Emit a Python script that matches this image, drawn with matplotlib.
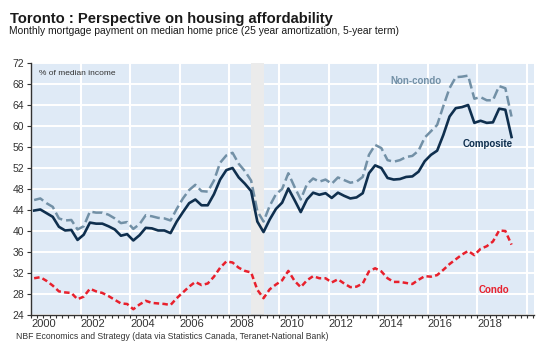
import numpy as np
import matplotlib
matplotlib.use("Agg")
from matplotlib import pyplot as plt
from matplotlib.ticker import MultipleLocator, FixedLocator

plt.rcParams['font.family'] = ['Liberation Sans', 'DejaVu Sans']

# quarterly data, 2000Q1 .. 2019Q2 (plotted at mid-quarter)
quarters = 2000.125 + 0.25 * np.arange(78)

composite = [43.9, 44.1, 43.4, 42.7, 40.8, 40.1, 40.2, 38.3, 39.3, 41.6,
             41.4, 41.4, 40.9, 40.3, 39.1, 39.4, 38.2, 39.2, 40.6, 40.5,
             40.1, 40.1, 39.6, 41.8, 43.6, 45.3, 46.0, 44.9, 44.9, 47.0,
             49.8, 51.6, 52.0, 50.2, 49.0, 47.6, 41.8, 39.8, 42.2, 44.2,
             45.4, 48.1, 45.9, 43.6, 46.0, 47.3, 46.9, 47.2, 46.3, 47.3,
             46.7, 46.2, 46.4, 47.2, 51.0, 52.5, 52.0, 50.1, 49.8, 49.9,
             50.3, 50.4, 51.3, 53.3, 54.5, 55.3, 58.3, 61.8, 63.4, 63.6,
             64.0, 60.6, 61.0, 60.6, 60.7, 63.3, 63.1, 57.9]

non_condo = [45.9, 46.2, 45.3, 44.6, 42.4, 42.0, 42.1, 40.3, 40.9, 43.7,
             43.5, 43.5, 43.1, 42.4, 41.5, 41.7, 40.4, 41.3, 43.0, 42.8,
             42.5, 42.4, 42.0, 44.2, 46.2, 47.8, 48.8, 47.6, 47.5, 49.6,
             53.0, 54.4, 54.9, 52.8, 51.4, 49.6, 43.8, 41.8, 44.8, 47.0,
             48.0, 51.0, 48.4, 46.0, 48.9, 50.0, 49.4, 49.8, 49.0, 50.2,
             49.7, 49.2, 49.4, 50.3, 54.5, 56.4, 55.8, 53.5, 53.2, 53.5,
             54.1, 54.3, 55.3, 57.8, 59.0, 60.2, 63.8, 67.2, 69.3, 69.4,
             69.6, 65.2, 65.5, 64.9, 64.9, 67.6, 67.2, 61.8]

condo = [31.0, 31.2, 30.5, 29.6, 28.5, 28.3, 28.2, 27.0, 27.5, 29.0,
         28.5, 28.2, 27.6, 26.9, 26.2, 26.1, 25.1, 26.0, 26.7, 26.3,
         26.2, 26.1, 25.9, 27.2, 28.3, 29.4, 30.3, 29.7, 30.0, 31.3,
         33.0, 34.2, 34.0, 33.0, 32.4, 32.1, 28.8, 27.2, 28.9, 29.8,
         30.6, 32.4, 30.5, 29.3, 30.6, 31.4, 31.0, 31.0, 30.2, 30.8,
         30.0, 29.3, 29.4, 30.0, 32.3, 32.9, 32.3, 31.0, 30.3, 30.3,
         30.1, 29.9, 30.7, 31.4, 31.3, 31.6, 32.6, 33.7, 34.6, 35.5,
         36.2, 35.4, 36.6, 37.1, 38.0, 40.1, 40.0, 37.4]

recession = (2008.875, 2009.375)
year_labels = list(range(2000, 2020, 2))

NAVY = '#0f2f4e'
GREYBLUE = '#7290a6'
RED = '#e8202c'
BG = '#dfeaf6'
TXT = '#333333'

fig = plt.figure(figsize=(5.56, 3.55), dpi=100)
ax = fig.add_axes([0.0558, 0.1127, 0.9046, 0.7098])
ax.set_facecolor(BG)

ax.axvspan(recession[0], recession[1], color='#ebebeb', zorder=1, lw=0)

# grid
ax.set_ylim(24, 72)
ax.set_xlim(2000, 2020.28)
ax.yaxis.set_major_locator(MultipleLocator(4))
ax.yaxis.grid(True, color='white', lw=1.4, zorder=0)
for yr in range(2002, 2021, 2):
    ax.axvline(yr, color='white', lw=1.5, zorder=1.5)
ax.set_axisbelow(True)

ax.plot(quarters, non_condo, color=GREYBLUE, lw=1.8, ls=(0, (4, 1.6)), zorder=3)
ax.plot(quarters, composite, color=NAVY, lw=1.9, zorder=4)
ax.plot(quarters, condo, color=RED, lw=1.8, ls=(0, (2.2, 1.3)), zorder=3)

# x axis: labels centred on year, quarterly ticks
ax.xaxis.remove_overlapping_locs = False
ax.xaxis.set_major_locator(FixedLocator([y + 0.5 for y in year_labels]))
ax.set_xticklabels([str(y) for y in year_labels])
ax.xaxis.set_minor_locator(MultipleLocator(0.25))
ax.tick_params(axis='x', which='major', length=0, pad=3, labelsize=8, labelcolor=TXT)
ax.tick_params(axis='x', which='minor', length=2.5, width=0.8, color='#333333', direction='out')
ax.tick_params(axis='y', which='major', length=3, width=0.8, color='#333333',
               labelsize=7.5, labelcolor=TXT, pad=2)

for s in ['top', 'right']:
    ax.spines[s].set_visible(False)
for s in ['left', 'bottom']:
    ax.spines[s].set_color('#333333')
    ax.spines[s].set_linewidth(1.0)

ax.text(0.016, 0.972, '% of median income', transform=ax.transAxes, fontsize=6,
        color=TXT, va='top', ha='left')
ax.text(2014.5, 68.6, 'Non-condo', color=GREYBLUE, fontsize=7, fontweight='bold',
        ha='left', va='center')
ax.text(2017.42, 56.6, 'Composite', color=NAVY, fontsize=7, fontweight='bold',
        ha='left', va='center')
ax.text(2018.06, 28.8, 'Condo', color=RED, fontsize=7, fontweight='bold',
        ha='left', va='center')

fig.text(0.018, 0.947, 'Toronto : Perspective on housing affordability', fontsize=10.6,
         fontweight='bold', color='#1a1a1a', ha='left', va='center')
fig.text(0.017, 0.912, 'Monthly mortgage payment on median home price (25 year amortization, 5-year term)',
         fontsize=7.4, color='#1a1a1a', ha='left', va='center')
fig.text(0.029, 0.053, 'NBF Economics and Strategy (data via Statistics Canada, Teranet-National Bank)',
         fontsize=6.2, color=TXT, ha='left', va='center')

fig.savefig('out.png', dpi=100)
